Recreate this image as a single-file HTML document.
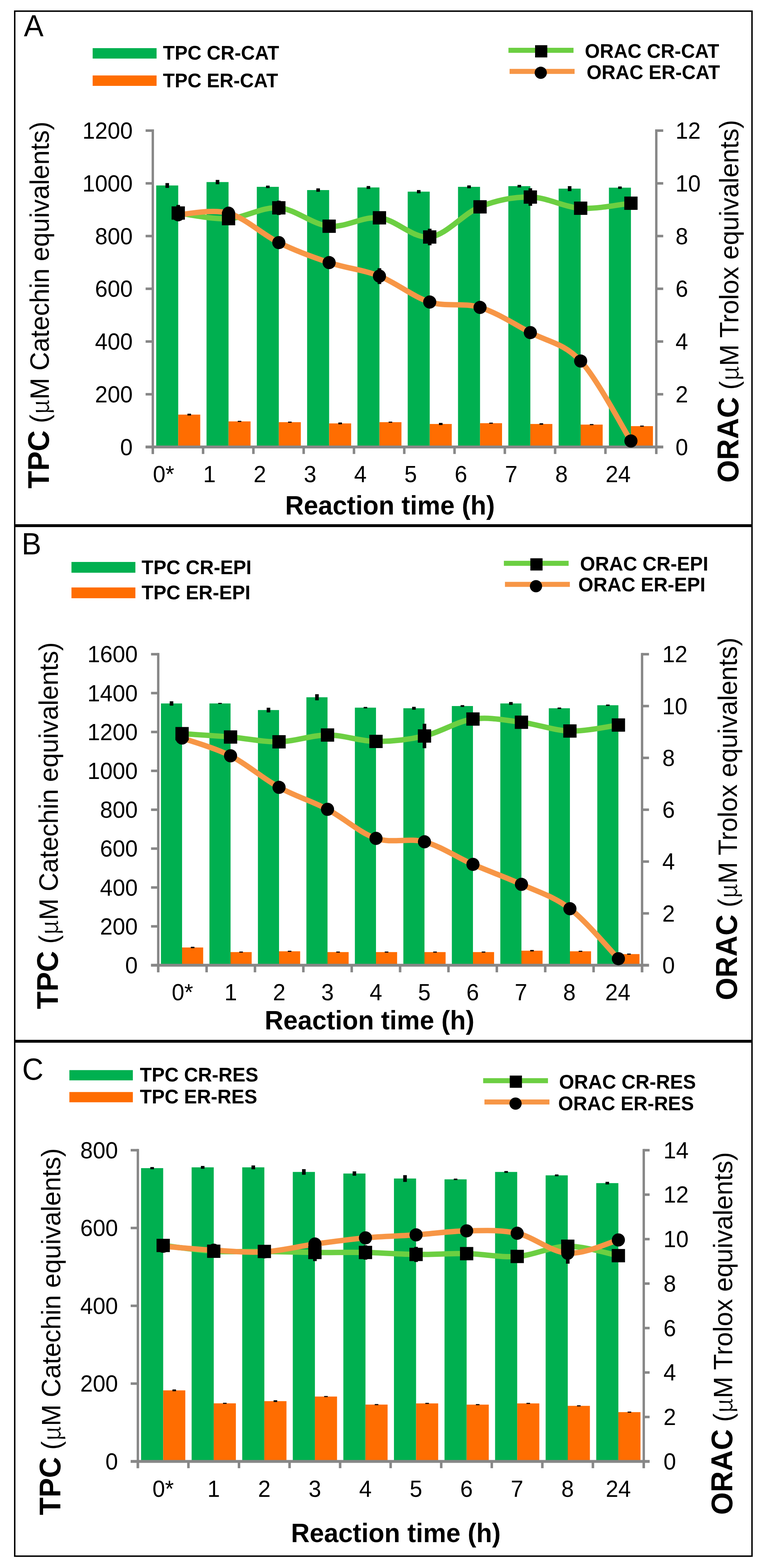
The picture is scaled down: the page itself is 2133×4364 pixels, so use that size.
<!DOCTYPE html><html><head><meta charset="utf-8"><style>html,body{margin:0;padding:0;background:#fff;}svg{display:block;}</style></head><body>
<svg width="2133" height="4364" viewBox="0 0 2133 4364" font-family='"Liberation Sans", Arial, sans-serif'>
<rect width="2133" height="4364" fill="#fff"/>
<rect x="435.0" y="516.2" width="61.3" height="727.8" fill="#00B050"/>
<rect x="496.3" y="1153.9" width="61.3" height="90.1" fill="#FF6D01"/>
<rect x="460.7" y="509.5" width="10" height="13.4" fill="#000"/>
<rect x="522.0" y="1151.4" width="10" height="5.0" fill="#000"/>
<rect x="575.1" y="506.7" width="61.3" height="737.3" fill="#00B050"/>
<rect x="636.4" y="1172.8" width="61.3" height="71.2" fill="#FF6D01"/>
<rect x="600.7" y="500.7" width="10" height="12.0" fill="#000"/>
<rect x="662.0" y="1171.3" width="10" height="3.0" fill="#000"/>
<rect x="715.1" y="520.0" width="61.3" height="724.0" fill="#00B050"/>
<rect x="776.4" y="1175.0" width="61.3" height="69.0" fill="#FF6D01"/>
<rect x="740.8" y="516.6" width="10" height="6.8" fill="#000"/>
<rect x="802.1" y="1173.5" width="10" height="3.0" fill="#000"/>
<rect x="855.2" y="529.0" width="61.3" height="715.0" fill="#00B050"/>
<rect x="916.5" y="1178.4" width="61.3" height="65.6" fill="#FF6D01"/>
<rect x="880.9" y="524.3" width="10" height="9.4" fill="#000"/>
<rect x="942.2" y="1175.9" width="10" height="5.0" fill="#000"/>
<rect x="995.3" y="521.7" width="61.3" height="722.3" fill="#00B050"/>
<rect x="1056.6" y="1175.0" width="61.3" height="69.0" fill="#FF6D01"/>
<rect x="1020.9" y="517.7" width="10" height="8.0" fill="#000"/>
<rect x="1082.2" y="1173.5" width="10" height="3.0" fill="#000"/>
<rect x="1135.3" y="533.4" width="61.3" height="710.6" fill="#00B050"/>
<rect x="1196.6" y="1180.0" width="61.3" height="64.0" fill="#FF6D01"/>
<rect x="1161.0" y="528.9" width="10" height="9.0" fill="#000"/>
<rect x="1222.3" y="1177.0" width="10" height="6.0" fill="#000"/>
<rect x="1275.4" y="520.0" width="61.3" height="724.0" fill="#00B050"/>
<rect x="1336.7" y="1177.8" width="61.3" height="66.2" fill="#FF6D01"/>
<rect x="1301.1" y="516.0" width="10" height="8.0" fill="#000"/>
<rect x="1362.4" y="1176.3" width="10" height="3.0" fill="#000"/>
<rect x="1415.5" y="518.1" width="61.3" height="725.9" fill="#00B050"/>
<rect x="1476.8" y="1180.0" width="61.3" height="64.0" fill="#FF6D01"/>
<rect x="1441.1" y="514.6" width="10" height="7.0" fill="#000"/>
<rect x="1502.4" y="1178.0" width="10" height="4.0" fill="#000"/>
<rect x="1555.6" y="525.0" width="61.3" height="719.0" fill="#00B050"/>
<rect x="1616.9" y="1181.7" width="61.3" height="62.3" fill="#FF6D01"/>
<rect x="1581.2" y="518.0" width="10" height="14.0" fill="#000"/>
<rect x="1642.5" y="1180.2" width="10" height="3.0" fill="#000"/>
<rect x="1695.6" y="522.3" width="61.3" height="721.7" fill="#00B050"/>
<rect x="1756.9" y="1186.0" width="61.3" height="58.0" fill="#FF6D01"/>
<rect x="1721.3" y="519.0" width="10" height="6.6" fill="#000"/>
<rect x="1782.6" y="1184.5" width="10" height="3.0" fill="#000"/>
<g fill="#878787">
<rect x="422.2" y="360.0" width="6.6" height="903.5"/>
<rect x="1824.2" y="360.0" width="6.6" height="903.5"/>
<rect x="405.5" y="1240.0" width="1441.3" height="8"/>
<rect x="405.5" y="360.0" width="20" height="7"/>
<rect x="405.5" y="506.8" width="20" height="7"/>
<rect x="405.5" y="653.5" width="20" height="7"/>
<rect x="405.5" y="800.2" width="20" height="7"/>
<rect x="405.5" y="947.0" width="20" height="7"/>
<rect x="405.5" y="1093.8" width="20" height="7"/>
<rect x="405.5" y="1240.5" width="20" height="7"/>
<rect x="1827.5" y="360.0" width="19.3" height="7"/>
<rect x="1827.5" y="506.8" width="19.3" height="7"/>
<rect x="1827.5" y="653.5" width="19.3" height="7"/>
<rect x="1827.5" y="800.2" width="19.3" height="7"/>
<rect x="1827.5" y="947.0" width="19.3" height="7"/>
<rect x="1827.5" y="1093.8" width="19.3" height="7"/>
<rect x="1827.5" y="1240.5" width="19.3" height="7"/>
<rect x="422.0" y="1244.0" width="7" height="19.5"/>
<rect x="562.0" y="1244.0" width="7" height="19.5"/>
<rect x="702.1" y="1244.0" width="7" height="19.5"/>
<rect x="842.1" y="1244.0" width="7" height="19.5"/>
<rect x="982.2" y="1244.0" width="7" height="19.5"/>
<rect x="1122.2" y="1244.0" width="7" height="19.5"/>
<rect x="1262.2" y="1244.0" width="7" height="19.5"/>
<rect x="1402.3" y="1244.0" width="7" height="19.5"/>
<rect x="1542.3" y="1244.0" width="7" height="19.5"/>
<rect x="1682.4" y="1244.0" width="7" height="19.5"/>
<rect x="1824.0" y="1244.0" width="7" height="19.5"/>
</g>
<path d="M496.3,592.9 C519.6,595.5 589.7,610.9 636.4,608.5 C683.1,606.1 729.8,574.9 776.4,578.4 C823.1,581.9 869.8,625.0 916.5,629.6 C963.2,634.2 1009.9,601.2 1056.6,606.2 C1103.3,611.2 1150.0,664.7 1196.6,659.6 C1243.3,654.5 1290.0,594.2 1336.7,575.7 C1383.4,557.2 1430.1,547.8 1476.8,548.4 C1523.5,549.0 1570.2,576.6 1616.9,579.5 C1663.5,582.4 1733.6,567.9 1756.9,565.6" fill="none" stroke="#6CCF42" stroke-width="15"/>
<path d="M496.3,597.6 C519.6,596.9 589.7,580.5 636.4,593.4 C683.1,606.3 729.8,652.3 776.4,675.2 C823.1,698.1 869.8,715.2 916.5,730.8 C963.2,746.3 1009.9,750.2 1056.6,768.5 C1103.3,786.8 1150.0,826.1 1196.6,840.6 C1243.3,855.1 1290.0,841.4 1336.7,855.6 C1383.4,869.8 1430.1,900.8 1476.8,925.7 C1523.5,950.6 1570.2,954.5 1616.9,1004.8 C1663.5,1055.1 1733.6,1190.2 1756.9,1227.3" fill="none" stroke="#F79646" stroke-width="15"/>
<rect x="491.3" y="570.4" width="10" height="45.0" fill="#000"/>
<rect x="771.4" y="558.4" width="10" height="40.0" fill="#000"/>
<rect x="1191.6" y="636.6" width="10" height="46.0" fill="#000"/>
<rect x="1471.8" y="524.0" width="10" height="48.8" fill="#000"/>
<rect x="1051.6" y="746.5" width="10" height="44.0" fill="#000"/>
<rect x="477.8" y="574.4" width="37" height="37" fill="#000"/>
<rect x="617.9" y="590.0" width="37" height="37" fill="#000"/>
<rect x="757.9" y="559.9" width="37" height="37" fill="#000"/>
<rect x="898.0" y="611.1" width="37" height="37" fill="#000"/>
<rect x="1038.1" y="587.7" width="37" height="37" fill="#000"/>
<rect x="1178.1" y="641.1" width="37" height="37" fill="#000"/>
<rect x="1318.2" y="557.2" width="37" height="37" fill="#000"/>
<rect x="1458.3" y="529.9" width="37" height="37" fill="#000"/>
<rect x="1598.4" y="561.0" width="37" height="37" fill="#000"/>
<rect x="1738.4" y="547.1" width="37" height="37" fill="#000"/>
<circle cx="496.3" cy="597.6" r="18.3" fill="#000"/>
<circle cx="636.4" cy="593.4" r="18.3" fill="#000"/>
<circle cx="776.4" cy="675.2" r="18.3" fill="#000"/>
<circle cx="916.5" cy="730.8" r="18.3" fill="#000"/>
<circle cx="1056.6" cy="768.5" r="18.3" fill="#000"/>
<circle cx="1196.6" cy="840.6" r="18.3" fill="#000"/>
<circle cx="1336.7" cy="855.6" r="18.3" fill="#000"/>
<circle cx="1476.8" cy="925.7" r="18.3" fill="#000"/>
<circle cx="1616.9" cy="1004.8" r="18.3" fill="#000"/>
<circle cx="1756.9" cy="1227.3" r="18.3" fill="#000"/>
<text transform="translate(229.4,386.1) scale(1,1.04)" font-size="63" text-anchor="start" fill="#000">1200</text>
<text transform="translate(229.4,532.9) scale(1,1.04)" font-size="63" text-anchor="start" fill="#000">1000</text>
<text transform="translate(264.4,679.6) scale(1,1.04)" font-size="63" text-anchor="start" fill="#000">800</text>
<text transform="translate(264.4,826.4) scale(1,1.04)" font-size="63" text-anchor="start" fill="#000">600</text>
<text transform="translate(264.4,973.1) scale(1,1.04)" font-size="63" text-anchor="start" fill="#000">400</text>
<text transform="translate(264.4,1119.8) scale(1,1.04)" font-size="63" text-anchor="start" fill="#000">200</text>
<text transform="translate(334.5,1266.6) scale(1,1.04)" font-size="63" text-anchor="start" fill="#000">0</text>
<text transform="translate(1881.0,386.1) scale(1,1.04)" font-size="63" text-anchor="start" fill="#000">12</text>
<text transform="translate(1881.0,532.9) scale(1,1.04)" font-size="63" text-anchor="start" fill="#000">10</text>
<text transform="translate(1881.0,679.6) scale(1,1.04)" font-size="63" text-anchor="start" fill="#000">8</text>
<text transform="translate(1881.0,826.4) scale(1,1.04)" font-size="63" text-anchor="start" fill="#000">6</text>
<text transform="translate(1881.0,973.1) scale(1,1.04)" font-size="63" text-anchor="start" fill="#000">4</text>
<text transform="translate(1881.0,1119.8) scale(1,1.04)" font-size="63" text-anchor="start" fill="#000">2</text>
<text transform="translate(1881.0,1266.6) scale(1,1.04)" font-size="63" text-anchor="start" fill="#000">0</text>
<text transform="translate(425.8,1342.0) scale(1,1.04)" font-size="63" text-anchor="start" fill="#000">0*</text>
<text transform="translate(565.8,1342.0) scale(1,1.04)" font-size="63" text-anchor="start" fill="#000">1</text>
<text transform="translate(705.9,1342.0) scale(1,1.04)" font-size="63" text-anchor="start" fill="#000">2</text>
<text transform="translate(845.9,1342.0) scale(1,1.04)" font-size="63" text-anchor="start" fill="#000">3</text>
<text transform="translate(986.0,1342.0) scale(1,1.04)" font-size="63" text-anchor="start" fill="#000">4</text>
<text transform="translate(1126.0,1342.0) scale(1,1.04)" font-size="63" text-anchor="start" fill="#000">5</text>
<text transform="translate(1266.0,1342.0) scale(1,1.04)" font-size="63" text-anchor="start" fill="#000">6</text>
<text transform="translate(1406.1,1342.0) scale(1,1.04)" font-size="63" text-anchor="start" fill="#000">7</text>
<text transform="translate(1546.1,1342.0) scale(1,1.04)" font-size="63" text-anchor="start" fill="#000">8</text>
<text transform="translate(1686.2,1342.0) scale(1,1.04)" font-size="63" text-anchor="start" fill="#000">24</text>
<text transform="translate(794.1,1432.0) scale(1,1.04)" font-size="72" font-weight="bold" text-anchor="start" fill="#000">Reaction time (h)</text>
<text transform="translate(135.9,1359.7) rotate(-90) scale(1,1.02)" font-size="72.1"><tspan font-weight="bold" font-size="81">TPC</tspan> (<tspan font-family="Noto Serif CJK SC, Liberation Serif, serif" font-size="0.93em">μ</tspan>M Catechin equivalents)</text>
<text transform="translate(2055.5,1343.3) rotate(-90) scale(1,1.02)" font-size="72.1"><tspan font-weight="bold" font-size="81">ORAC</tspan> (<tspan font-family="Noto Serif CJK SC, Liberation Serif, serif" font-size="0.93em">μ</tspan>M Trolox equivalents)</text>
<text transform="translate(66.5,100.9) scale(1,1.04)" font-size="82" text-anchor="start" fill="#000">A</text>
<rect x="258" y="134" width="178" height="29" fill="#00B050"/>
<rect x="258" y="210" width="178" height="29" fill="#FF6D01"/>
<text transform="translate(453.7,166.4) scale(1,1.04)" font-size="53.6" font-weight="bold" text-anchor="start" fill="#000">TPC CR-CAT</text>
<text transform="translate(453.7,242.7) scale(1,1.04)" font-size="53.6" font-weight="bold" text-anchor="start" fill="#000">TPC ER-CAT</text>
<rect x="1415.8" y="133" width="181.20000000000005" height="14" fill="#6CCF42"/>
<rect x="1419" y="191.7" width="181" height="14" fill="#F79646"/>
<rect x="1490" y="125.80000000000001" width="34" height="34" fill="#000"/>
<circle cx="1505.8" cy="202.6" r="17" fill="#000"/>
<text transform="translate(1628.5,161.0) scale(1,1.04)" font-size="53.6" font-weight="bold" text-anchor="start" fill="#000">ORAC CR-CAT</text>
<text transform="translate(1633.6,219.8) scale(1,1.04)" font-size="53.6" font-weight="bold" text-anchor="start" fill="#000">ORAC ER-CAT</text>
<rect x="448.2" y="1957.8" width="58.8" height="728.6" fill="#00B050"/>
<rect x="507.0" y="2637.0" width="58.8" height="49.4" fill="#FF6D01"/>
<rect x="472.6" y="1951.8" width="10" height="12.0" fill="#000"/>
<rect x="531.4" y="2635.0" width="10" height="4.0" fill="#000"/>
<rect x="583.2" y="1957.8" width="58.8" height="728.6" fill="#00B050"/>
<rect x="642.0" y="2649.8" width="58.8" height="36.6" fill="#FF6D01"/>
<rect x="607.6" y="1956.3" width="10" height="3.0" fill="#000"/>
<rect x="666.4" y="2648.3" width="10" height="3.0" fill="#000"/>
<rect x="718.2" y="1976.2" width="58.8" height="710.2" fill="#00B050"/>
<rect x="777.0" y="2647.6" width="58.8" height="38.8" fill="#FF6D01"/>
<rect x="742.6" y="1969.7" width="10" height="13.0" fill="#000"/>
<rect x="801.4" y="2646.1" width="10" height="3.0" fill="#000"/>
<rect x="853.2" y="1940.6" width="58.8" height="745.8" fill="#00B050"/>
<rect x="912.0" y="2649.8" width="58.8" height="36.6" fill="#FF6D01"/>
<rect x="877.6" y="1932.1" width="10" height="17.0" fill="#000"/>
<rect x="936.4" y="2648.3" width="10" height="3.0" fill="#000"/>
<rect x="988.2" y="1969.5" width="58.8" height="716.9" fill="#00B050"/>
<rect x="1047.0" y="2649.8" width="58.8" height="36.6" fill="#FF6D01"/>
<rect x="1012.6" y="1967.5" width="10" height="4.0" fill="#000"/>
<rect x="1071.4" y="2648.3" width="10" height="3.0" fill="#000"/>
<rect x="1123.2" y="1971.2" width="58.8" height="715.2" fill="#00B050"/>
<rect x="1182.0" y="2649.8" width="58.8" height="36.6" fill="#FF6D01"/>
<rect x="1147.6" y="1967.2" width="10" height="8.0" fill="#000"/>
<rect x="1206.4" y="2648.3" width="10" height="3.0" fill="#000"/>
<rect x="1258.2" y="1965.0" width="58.8" height="721.4" fill="#00B050"/>
<rect x="1317.0" y="2649.8" width="58.8" height="36.6" fill="#FF6D01"/>
<rect x="1282.6" y="1962.5" width="10" height="5.0" fill="#000"/>
<rect x="1341.4" y="2648.3" width="10" height="3.0" fill="#000"/>
<rect x="1393.2" y="1957.8" width="58.8" height="728.6" fill="#00B050"/>
<rect x="1452.0" y="2645.9" width="58.8" height="40.5" fill="#FF6D01"/>
<rect x="1417.6" y="1953.8" width="10" height="8.0" fill="#000"/>
<rect x="1476.4" y="2643.9" width="10" height="4.0" fill="#000"/>
<rect x="1528.2" y="1971.2" width="58.8" height="715.2" fill="#00B050"/>
<rect x="1587.0" y="2647.6" width="58.8" height="38.8" fill="#FF6D01"/>
<rect x="1552.6" y="1969.2" width="10" height="4.0" fill="#000"/>
<rect x="1611.4" y="2646.1" width="10" height="3.0" fill="#000"/>
<rect x="1663.2" y="1962.8" width="58.8" height="723.6" fill="#00B050"/>
<rect x="1722.0" y="2655.4" width="58.8" height="31.0" fill="#FF6D01"/>
<rect x="1687.6" y="1960.8" width="10" height="4.0" fill="#000"/>
<rect x="1746.4" y="2653.9" width="10" height="3.0" fill="#000"/>
<g fill="#878787">
<rect x="437.3" y="1817.3" width="6.6" height="888.8"/>
<rect x="1784.6" y="1817.3" width="6.6" height="888.8"/>
<rect x="420.6" y="2682.4" width="1386.6" height="8"/>
<rect x="420.6" y="1817.3" width="20" height="7"/>
<rect x="420.6" y="1925.5" width="20" height="7"/>
<rect x="420.6" y="2033.7" width="20" height="7"/>
<rect x="420.6" y="2141.9" width="20" height="7"/>
<rect x="420.6" y="2250.1" width="20" height="7"/>
<rect x="420.6" y="2358.3" width="20" height="7"/>
<rect x="420.6" y="2466.5" width="20" height="7"/>
<rect x="420.6" y="2574.7" width="20" height="7"/>
<rect x="420.6" y="2682.9" width="20" height="7"/>
<rect x="1787.9" y="1817.3" width="19.3" height="7"/>
<rect x="1787.9" y="1961.6" width="19.3" height="7"/>
<rect x="1787.9" y="2105.8" width="19.3" height="7"/>
<rect x="1787.9" y="2250.1" width="19.3" height="7"/>
<rect x="1787.9" y="2394.4" width="19.3" height="7"/>
<rect x="1787.9" y="2538.6" width="19.3" height="7"/>
<rect x="1787.9" y="2682.9" width="19.3" height="7"/>
<rect x="437.1" y="2686.4" width="7" height="19.7"/>
<rect x="571.8" y="2686.4" width="7" height="19.7"/>
<rect x="706.5" y="2686.4" width="7" height="19.7"/>
<rect x="841.2" y="2686.4" width="7" height="19.7"/>
<rect x="975.9" y="2686.4" width="7" height="19.7"/>
<rect x="1110.6" y="2686.4" width="7" height="19.7"/>
<rect x="1245.3" y="2686.4" width="7" height="19.7"/>
<rect x="1380.0" y="2686.4" width="7" height="19.7"/>
<rect x="1514.7" y="2686.4" width="7" height="19.7"/>
<rect x="1649.4" y="2686.4" width="7" height="19.7"/>
<rect x="1784.4" y="2686.4" width="7" height="19.7"/>
</g>
<path d="M507.0,2041.9 C529.5,2043.5 597.0,2047.4 642.0,2051.2 C687.0,2055.0 732.0,2065.5 777.0,2064.6 C822.0,2063.7 867.0,2045.9 912.0,2045.7 C957.0,2045.5 1002.0,2063.1 1047.0,2063.5 C1092.0,2063.9 1137.0,2058.8 1182.0,2048.4 C1227.0,2038.0 1272.0,2007.6 1317.0,2001.2 C1362.0,1994.8 1407.0,2004.5 1452.0,2010.1 C1497.0,2015.6 1542.0,2033.2 1587.0,2034.5 C1632.0,2035.8 1699.5,2020.7 1722.0,2017.9" fill="none" stroke="#6CCF42" stroke-width="15"/>
<path d="M507.0,2054.0 C529.5,2062.2 597.0,2080.6 642.0,2103.5 C687.0,2126.4 732.0,2166.5 777.0,2191.3 C822.0,2216.1 867.0,2228.8 912.0,2252.5 C957.0,2276.2 1002.0,2318.3 1047.0,2333.4 C1092.0,2348.5 1137.0,2330.9 1182.0,2342.9 C1227.0,2354.9 1272.0,2386.0 1317.0,2405.7 C1362.0,2425.4 1407.0,2440.7 1452.0,2461.3 C1497.0,2481.9 1542.0,2494.6 1587.0,2529.1 C1632.0,2563.6 1699.5,2645.0 1722.0,2668.2" fill="none" stroke="#F79646" stroke-width="15"/>
<rect x="1177.0" y="2014.4" width="10" height="68.0" fill="#000"/>
<rect x="488.5" y="2023.4" width="37" height="37" fill="#000"/>
<rect x="623.5" y="2032.7" width="37" height="37" fill="#000"/>
<rect x="758.5" y="2046.1" width="37" height="37" fill="#000"/>
<rect x="893.5" y="2027.2" width="37" height="37" fill="#000"/>
<rect x="1028.5" y="2045.0" width="37" height="37" fill="#000"/>
<rect x="1163.5" y="2029.9" width="37" height="37" fill="#000"/>
<rect x="1298.5" y="1982.7" width="37" height="37" fill="#000"/>
<rect x="1433.5" y="1991.6" width="37" height="37" fill="#000"/>
<rect x="1568.5" y="2016.0" width="37" height="37" fill="#000"/>
<rect x="1703.5" y="1999.4" width="37" height="37" fill="#000"/>
<circle cx="507.0" cy="2054.0" r="18.3" fill="#000"/>
<circle cx="642.0" cy="2103.5" r="18.3" fill="#000"/>
<circle cx="777.0" cy="2191.3" r="18.3" fill="#000"/>
<circle cx="912.0" cy="2252.5" r="18.3" fill="#000"/>
<circle cx="1047.0" cy="2333.4" r="18.3" fill="#000"/>
<circle cx="1182.0" cy="2342.9" r="18.3" fill="#000"/>
<circle cx="1317.0" cy="2405.7" r="18.3" fill="#000"/>
<circle cx="1452.0" cy="2461.3" r="18.3" fill="#000"/>
<circle cx="1587.0" cy="2529.1" r="18.3" fill="#000"/>
<circle cx="1722.0" cy="2668.2" r="18.3" fill="#000"/>
<text transform="translate(243.4,1843.3) scale(1,1.04)" font-size="63" text-anchor="start" fill="#000">1600</text>
<text transform="translate(243.4,1951.5) scale(1,1.04)" font-size="63" text-anchor="start" fill="#000">1400</text>
<text transform="translate(243.4,2059.7) scale(1,1.04)" font-size="63" text-anchor="start" fill="#000">1200</text>
<text transform="translate(243.4,2167.9) scale(1,1.04)" font-size="63" text-anchor="start" fill="#000">1000</text>
<text transform="translate(278.4,2276.1) scale(1,1.04)" font-size="63" text-anchor="start" fill="#000">800</text>
<text transform="translate(278.4,2384.3) scale(1,1.04)" font-size="63" text-anchor="start" fill="#000">600</text>
<text transform="translate(278.4,2492.5) scale(1,1.04)" font-size="63" text-anchor="start" fill="#000">400</text>
<text transform="translate(278.4,2600.7) scale(1,1.04)" font-size="63" text-anchor="start" fill="#000">200</text>
<text transform="translate(348.5,2708.9) scale(1,1.04)" font-size="63" text-anchor="start" fill="#000">0</text>
<text transform="translate(1844.3,1843.3) scale(1,1.04)" font-size="63" text-anchor="start" fill="#000">12</text>
<text transform="translate(1844.3,1987.6) scale(1,1.04)" font-size="63" text-anchor="start" fill="#000">10</text>
<text transform="translate(1844.3,2131.8) scale(1,1.04)" font-size="63" text-anchor="start" fill="#000">8</text>
<text transform="translate(1844.3,2276.1) scale(1,1.04)" font-size="63" text-anchor="start" fill="#000">6</text>
<text transform="translate(1844.3,2420.4) scale(1,1.04)" font-size="63" text-anchor="start" fill="#000">4</text>
<text transform="translate(1844.3,2564.6) scale(1,1.04)" font-size="63" text-anchor="start" fill="#000">2</text>
<text transform="translate(1844.3,2708.9) scale(1,1.04)" font-size="63" text-anchor="start" fill="#000">0</text>
<text transform="translate(507.9,2784.0) scale(1,1.04)" font-size="63" text-anchor="middle" fill="#000">0*</text>
<text transform="translate(642.6,2784.0) scale(1,1.04)" font-size="63" text-anchor="middle" fill="#000">1</text>
<text transform="translate(777.4,2784.0) scale(1,1.04)" font-size="63" text-anchor="middle" fill="#000">2</text>
<text transform="translate(912.0,2784.0) scale(1,1.04)" font-size="63" text-anchor="middle" fill="#000">3</text>
<text transform="translate(1046.8,2784.0) scale(1,1.04)" font-size="63" text-anchor="middle" fill="#000">4</text>
<text transform="translate(1181.4,2784.0) scale(1,1.04)" font-size="63" text-anchor="middle" fill="#000">5</text>
<text transform="translate(1316.2,2784.0) scale(1,1.04)" font-size="63" text-anchor="middle" fill="#000">6</text>
<text transform="translate(1450.8,2784.0) scale(1,1.04)" font-size="63" text-anchor="middle" fill="#000">7</text>
<text transform="translate(1585.5,2784.0) scale(1,1.04)" font-size="63" text-anchor="middle" fill="#000">8</text>
<text transform="translate(1720.4,2784.0) scale(1,1.04)" font-size="63" text-anchor="middle" fill="#000">24</text>
<text transform="translate(737.1,2865.0) scale(1,1.04)" font-size="72" font-weight="bold" text-anchor="start" fill="#000">Reaction time (h)</text>
<text transform="translate(161.0,2808.8) rotate(-90) scale(1,1.02)" font-size="72.1"><tspan font-weight="bold" font-size="81">TPC</tspan> (<tspan font-family="Noto Serif CJK SC, Liberation Serif, serif" font-size="0.93em">μ</tspan>M Catechin equivalents)</text>
<text transform="translate(2051.5,2783.8) rotate(-90) scale(1,1.02)" font-size="72.1"><tspan font-weight="bold" font-size="81">ORAC</tspan> (<tspan font-family="Noto Serif CJK SC, Liberation Serif, serif" font-size="0.93em">μ</tspan>M Trolox equivalents)</text>
<text transform="translate(60.2,1543.0) scale(1,1.04)" font-size="82" text-anchor="start" fill="#000">B</text>
<rect x="199" y="1564" width="178" height="30" fill="#00B050"/>
<rect x="199" y="1635" width="178" height="30" fill="#FF6D01"/>
<text transform="translate(394.2,1598.0) scale(1,1.04)" font-size="54" font-weight="bold" text-anchor="start" fill="#000">TPC CR-EPI</text>
<text transform="translate(394.2,1667.9) scale(1,1.04)" font-size="54" font-weight="bold" text-anchor="start" fill="#000">TPC ER-EPI</text>
<rect x="1403.1" y="1560.8" width="180.30000000000018" height="14" fill="#6CCF42"/>
<rect x="1406.1" y="1619.4" width="180.70000000000005" height="14" fill="#F79646"/>
<rect x="1476.8" y="1553.8" width="34" height="34" fill="#000"/>
<circle cx="1492.5" cy="1631.5" r="17" fill="#000"/>
<text transform="translate(1615.2,1588.2) scale(1,1.04)" font-size="54" font-weight="bold" text-anchor="start" fill="#000">ORAC CR-EPI</text>
<text transform="translate(1610.2,1646.2) scale(1,1.04)" font-size="54" font-weight="bold" text-anchor="start" fill="#000">ORAC ER-EPI</text>
<rect x="392.8" y="3251.1" width="61.6" height="816.3" fill="#00B050"/>
<rect x="454.4" y="3869.6" width="61.6" height="197.8" fill="#FF6D01"/>
<rect x="418.6" y="3248.1" width="10" height="6.0" fill="#000"/>
<rect x="480.2" y="3867.1" width="10" height="5.0" fill="#000"/>
<rect x="533.6" y="3248.9" width="61.6" height="818.5" fill="#00B050"/>
<rect x="595.2" y="3905.7" width="61.6" height="161.7" fill="#FF6D01"/>
<rect x="559.4" y="3245.0" width="10" height="7.8" fill="#000"/>
<rect x="621.0" y="3904.2" width="10" height="3.0" fill="#000"/>
<rect x="674.5" y="3248.9" width="61.6" height="818.5" fill="#00B050"/>
<rect x="736.1" y="3899.6" width="61.6" height="167.8" fill="#FF6D01"/>
<rect x="700.3" y="3243.6" width="10" height="10.6" fill="#000"/>
<rect x="761.9" y="3897.1" width="10" height="5.0" fill="#000"/>
<rect x="815.3" y="3261.7" width="61.6" height="805.7" fill="#00B050"/>
<rect x="876.9" y="3886.8" width="61.6" height="180.6" fill="#FF6D01"/>
<rect x="841.1" y="3253.9" width="10" height="15.6" fill="#000"/>
<rect x="902.7" y="3885.3" width="10" height="3.0" fill="#000"/>
<rect x="956.1" y="3266.1" width="61.6" height="801.3" fill="#00B050"/>
<rect x="1017.7" y="3909.2" width="61.6" height="158.2" fill="#FF6D01"/>
<rect x="981.9" y="3260.1" width="10" height="12.0" fill="#000"/>
<rect x="1043.5" y="3907.7" width="10" height="3.0" fill="#000"/>
<rect x="1097.0" y="3280.0" width="61.6" height="787.4" fill="#00B050"/>
<rect x="1158.6" y="3905.9" width="61.6" height="161.5" fill="#FF6D01"/>
<rect x="1122.8" y="3270.6" width="10" height="18.8" fill="#000"/>
<rect x="1184.4" y="3904.4" width="10" height="3.0" fill="#000"/>
<rect x="1237.8" y="3282.3" width="61.6" height="785.1" fill="#00B050"/>
<rect x="1299.4" y="3909.3" width="61.6" height="158.1" fill="#FF6D01"/>
<rect x="1263.6" y="3280.3" width="10" height="4.0" fill="#000"/>
<rect x="1325.2" y="3907.8" width="10" height="3.0" fill="#000"/>
<rect x="1378.6" y="3261.7" width="61.6" height="805.7" fill="#00B050"/>
<rect x="1440.2" y="3905.9" width="61.6" height="161.5" fill="#FF6D01"/>
<rect x="1404.4" y="3259.2" width="10" height="5.0" fill="#000"/>
<rect x="1466.0" y="3904.4" width="10" height="3.0" fill="#000"/>
<rect x="1519.4" y="3271.2" width="61.6" height="796.2" fill="#00B050"/>
<rect x="1581.0" y="3912.7" width="61.6" height="154.7" fill="#FF6D01"/>
<rect x="1545.2" y="3268.7" width="10" height="5.0" fill="#000"/>
<rect x="1606.8" y="3911.2" width="10" height="3.0" fill="#000"/>
<rect x="1660.3" y="3292.8" width="61.6" height="774.6" fill="#00B050"/>
<rect x="1721.9" y="3930.2" width="61.6" height="137.2" fill="#FF6D01"/>
<rect x="1686.1" y="3289.2" width="10" height="7.2" fill="#000"/>
<rect x="1747.7" y="3928.7" width="10" height="3.0" fill="#000"/>
<g fill="#878787">
<rect x="380.6" y="3197.7" width="6.6" height="888.5"/>
<rect x="1789.3" y="3197.7" width="6.6" height="888.5"/>
<rect x="363.9" y="4063.4" width="1445.0" height="8"/>
<rect x="363.9" y="3197.7" width="20" height="7"/>
<rect x="363.9" y="3414.2" width="20" height="7"/>
<rect x="363.9" y="3630.8" width="20" height="7"/>
<rect x="363.9" y="3847.3" width="20" height="7"/>
<rect x="363.9" y="4063.9" width="20" height="7"/>
<rect x="1792.6" y="3197.7" width="16.3" height="7"/>
<rect x="1792.6" y="3321.4" width="16.3" height="7"/>
<rect x="1792.6" y="3445.2" width="16.3" height="7"/>
<rect x="1792.6" y="3568.9" width="16.3" height="7"/>
<rect x="1792.6" y="3692.7" width="16.3" height="7"/>
<rect x="1792.6" y="3816.4" width="16.3" height="7"/>
<rect x="1792.6" y="3940.2" width="16.3" height="7"/>
<rect x="1792.6" y="4063.9" width="16.3" height="7"/>
<rect x="380.4" y="4067.4" width="7" height="18.8"/>
<rect x="521.2" y="4067.4" width="7" height="18.8"/>
<rect x="662.0" y="4067.4" width="7" height="18.8"/>
<rect x="802.8" y="4067.4" width="7" height="18.8"/>
<rect x="943.6" y="4067.4" width="7" height="18.8"/>
<rect x="1084.3" y="4067.4" width="7" height="18.8"/>
<rect x="1225.1" y="4067.4" width="7" height="18.8"/>
<rect x="1365.9" y="4067.4" width="7" height="18.8"/>
<rect x="1506.7" y="4067.4" width="7" height="18.8"/>
<rect x="1647.5" y="4067.4" width="7" height="18.8"/>
<rect x="1789.1" y="4067.4" width="7" height="18.8"/>
</g>
<path d="M454.4,3466.3 C477.9,3469.0 548.3,3479.6 595.2,3482.4 C642.2,3485.2 689.1,3482.4 736.1,3483.0 C783.0,3483.6 829.9,3485.3 876.9,3485.8 C923.8,3486.3 970.8,3484.9 1017.7,3485.8 C1064.7,3486.7 1111.6,3490.8 1158.6,3491.3 C1205.5,3491.9 1252.4,3488.2 1299.4,3489.1 C1346.3,3490.0 1393.3,3500.3 1440.2,3496.9 C1487.2,3493.5 1534.1,3468.9 1581.0,3468.5 C1628.0,3468.1 1698.4,3490.3 1721.9,3494.7" fill="none" stroke="#6CCF42" stroke-width="15"/>
<path d="M454.4,3468.5 C477.9,3470.3 548.3,3477.0 595.2,3479.6 C642.2,3482.2 689.1,3487.0 736.1,3484.1 C783.0,3481.2 829.9,3468.9 876.9,3462.4 C923.8,3455.9 970.8,3449.5 1017.7,3445.2 C1064.7,3440.9 1111.6,3440.1 1158.6,3436.8 C1205.5,3433.6 1252.4,3426.4 1299.4,3425.7 C1346.3,3425.0 1393.3,3422.0 1440.2,3432.4 C1487.2,3442.8 1534.1,3484.9 1581.0,3488.0 C1628.0,3491.1 1698.4,3457.2 1721.9,3451.0" fill="none" stroke="#F79646" stroke-width="15"/>
<rect x="871.9" y="3461.8" width="10" height="48.0" fill="#000"/>
<rect x="1012.7" y="3465.8" width="10" height="40.0" fill="#000"/>
<rect x="1153.6" y="3470.3" width="10" height="42.0" fill="#000"/>
<rect x="1576.0" y="3459.0" width="10" height="58.0" fill="#000"/>
<rect x="435.9" y="3447.8" width="37" height="37" fill="#000"/>
<rect x="576.7" y="3463.9" width="37" height="37" fill="#000"/>
<rect x="717.6" y="3464.5" width="37" height="37" fill="#000"/>
<rect x="858.4" y="3467.3" width="37" height="37" fill="#000"/>
<rect x="999.2" y="3467.3" width="37" height="37" fill="#000"/>
<rect x="1140.1" y="3472.8" width="37" height="37" fill="#000"/>
<rect x="1280.9" y="3470.6" width="37" height="37" fill="#000"/>
<rect x="1421.7" y="3478.4" width="37" height="37" fill="#000"/>
<rect x="1562.5" y="3450.0" width="37" height="37" fill="#000"/>
<rect x="1703.4" y="3476.2" width="37" height="37" fill="#000"/>
<circle cx="454.4" cy="3468.5" r="18.3" fill="#000"/>
<circle cx="595.2" cy="3479.6" r="18.3" fill="#000"/>
<circle cx="736.1" cy="3484.1" r="18.3" fill="#000"/>
<circle cx="876.9" cy="3462.4" r="18.3" fill="#000"/>
<circle cx="1017.7" cy="3445.2" r="18.3" fill="#000"/>
<circle cx="1158.6" cy="3436.8" r="18.3" fill="#000"/>
<circle cx="1299.4" cy="3425.7" r="18.3" fill="#000"/>
<circle cx="1440.2" cy="3432.4" r="18.3" fill="#000"/>
<circle cx="1581.0" cy="3488.0" r="18.3" fill="#000"/>
<circle cx="1721.9" cy="3451.0" r="18.3" fill="#000"/>
<text transform="translate(223.4,3223.7) scale(1,1.04)" font-size="63" text-anchor="start" fill="#000">800</text>
<text transform="translate(223.4,3440.2) scale(1,1.04)" font-size="63" text-anchor="start" fill="#000">600</text>
<text transform="translate(223.4,3656.8) scale(1,1.04)" font-size="63" text-anchor="start" fill="#000">400</text>
<text transform="translate(223.4,3873.3) scale(1,1.04)" font-size="63" text-anchor="start" fill="#000">200</text>
<text transform="translate(293.5,4089.9) scale(1,1.04)" font-size="63" text-anchor="start" fill="#000">0</text>
<text transform="translate(1847.5,3223.7) scale(1,1.04)" font-size="63" text-anchor="start" fill="#000">14</text>
<text transform="translate(1847.5,3347.4) scale(1,1.04)" font-size="63" text-anchor="start" fill="#000">12</text>
<text transform="translate(1847.5,3471.2) scale(1,1.04)" font-size="63" text-anchor="start" fill="#000">10</text>
<text transform="translate(1847.5,3594.9) scale(1,1.04)" font-size="63" text-anchor="start" fill="#000">8</text>
<text transform="translate(1847.5,3718.7) scale(1,1.04)" font-size="63" text-anchor="start" fill="#000">6</text>
<text transform="translate(1847.5,3842.4) scale(1,1.04)" font-size="63" text-anchor="start" fill="#000">4</text>
<text transform="translate(1847.5,3966.2) scale(1,1.04)" font-size="63" text-anchor="start" fill="#000">2</text>
<text transform="translate(1847.5,4089.9) scale(1,1.04)" font-size="63" text-anchor="start" fill="#000">0</text>
<text transform="translate(454.3,4165.8) scale(1,1.04)" font-size="63" text-anchor="middle" fill="#000">0*</text>
<text transform="translate(595.1,4165.8) scale(1,1.04)" font-size="63" text-anchor="middle" fill="#000">1</text>
<text transform="translate(735.9,4165.8) scale(1,1.04)" font-size="63" text-anchor="middle" fill="#000">2</text>
<text transform="translate(876.7,4165.8) scale(1,1.04)" font-size="63" text-anchor="middle" fill="#000">3</text>
<text transform="translate(1017.5,4165.8) scale(1,1.04)" font-size="63" text-anchor="middle" fill="#000">4</text>
<text transform="translate(1158.2,4165.8) scale(1,1.04)" font-size="63" text-anchor="middle" fill="#000">5</text>
<text transform="translate(1299.0,4165.8) scale(1,1.04)" font-size="63" text-anchor="middle" fill="#000">6</text>
<text transform="translate(1439.8,4165.8) scale(1,1.04)" font-size="63" text-anchor="middle" fill="#000">7</text>
<text transform="translate(1580.6,4165.8) scale(1,1.04)" font-size="63" text-anchor="middle" fill="#000">8</text>
<text transform="translate(1721.8,4165.8) scale(1,1.04)" font-size="63" text-anchor="middle" fill="#000">24</text>
<text transform="translate(810.2,4291.8) scale(1,1.04)" font-size="72" font-weight="bold" text-anchor="start" fill="#000">Reaction time (h)</text>
<text transform="translate(167.9,4217.0) rotate(-90) scale(1,1.02)" font-size="72.1"><tspan font-weight="bold" font-size="81">TPC</tspan> (<tspan font-family="Noto Serif CJK SC, Liberation Serif, serif" font-size="0.93em">μ</tspan>M Catechin equivalents)</text>
<text transform="translate(2039.0,4216.0) rotate(-90) scale(1,1.02)" font-size="72.1"><tspan font-weight="bold" font-size="81">ORAC</tspan> (<tspan font-family="Noto Serif CJK SC, Liberation Serif, serif" font-size="0.93em">μ</tspan>M Trolox equivalents)</text>
<text transform="translate(61.7,3005.0) scale(1,1.04)" font-size="82" text-anchor="start" fill="#000">C</text>
<rect x="193.2" y="2978.3" width="176.7" height="28.5" fill="#00B050"/>
<rect x="193.2" y="3039.3" width="176.7" height="28.5" fill="#FF6D01"/>
<text transform="translate(389.4,3009.8) scale(1,1.04)" font-size="54" font-weight="bold" text-anchor="start" fill="#000">TPC CR-RES</text>
<text transform="translate(389.4,3070.6) scale(1,1.04)" font-size="54" font-weight="bold" text-anchor="start" fill="#000">TPC ER-RES</text>
<rect x="1345.4" y="3000.7" width="180.5" height="14" fill="#6CCF42"/>
<rect x="1349" y="3060" width="181" height="14" fill="#F79646"/>
<rect x="1419.4" y="2993.5" width="34" height="34" fill="#000"/>
<circle cx="1435.6" cy="3071.5" r="17" fill="#000"/>
<text transform="translate(1556.8,3030.0) scale(1,1.04)" font-size="54" font-weight="bold" text-anchor="start" fill="#000">ORAC CR-RES</text>
<text transform="translate(1554.2,3089.5) scale(1,1.04)" font-size="54" font-weight="bold" text-anchor="start" fill="#000">ORAC ER-RES</text>
<g fill="none" stroke="#000" stroke-width="4">
<rect x="41" y="31" width="2053" height="1430"/>
<rect x="41" y="1465" width="2053" height="1431"/>
<rect x="41" y="2900" width="2053" height="1431"/>
</g>
</svg></body></html>
